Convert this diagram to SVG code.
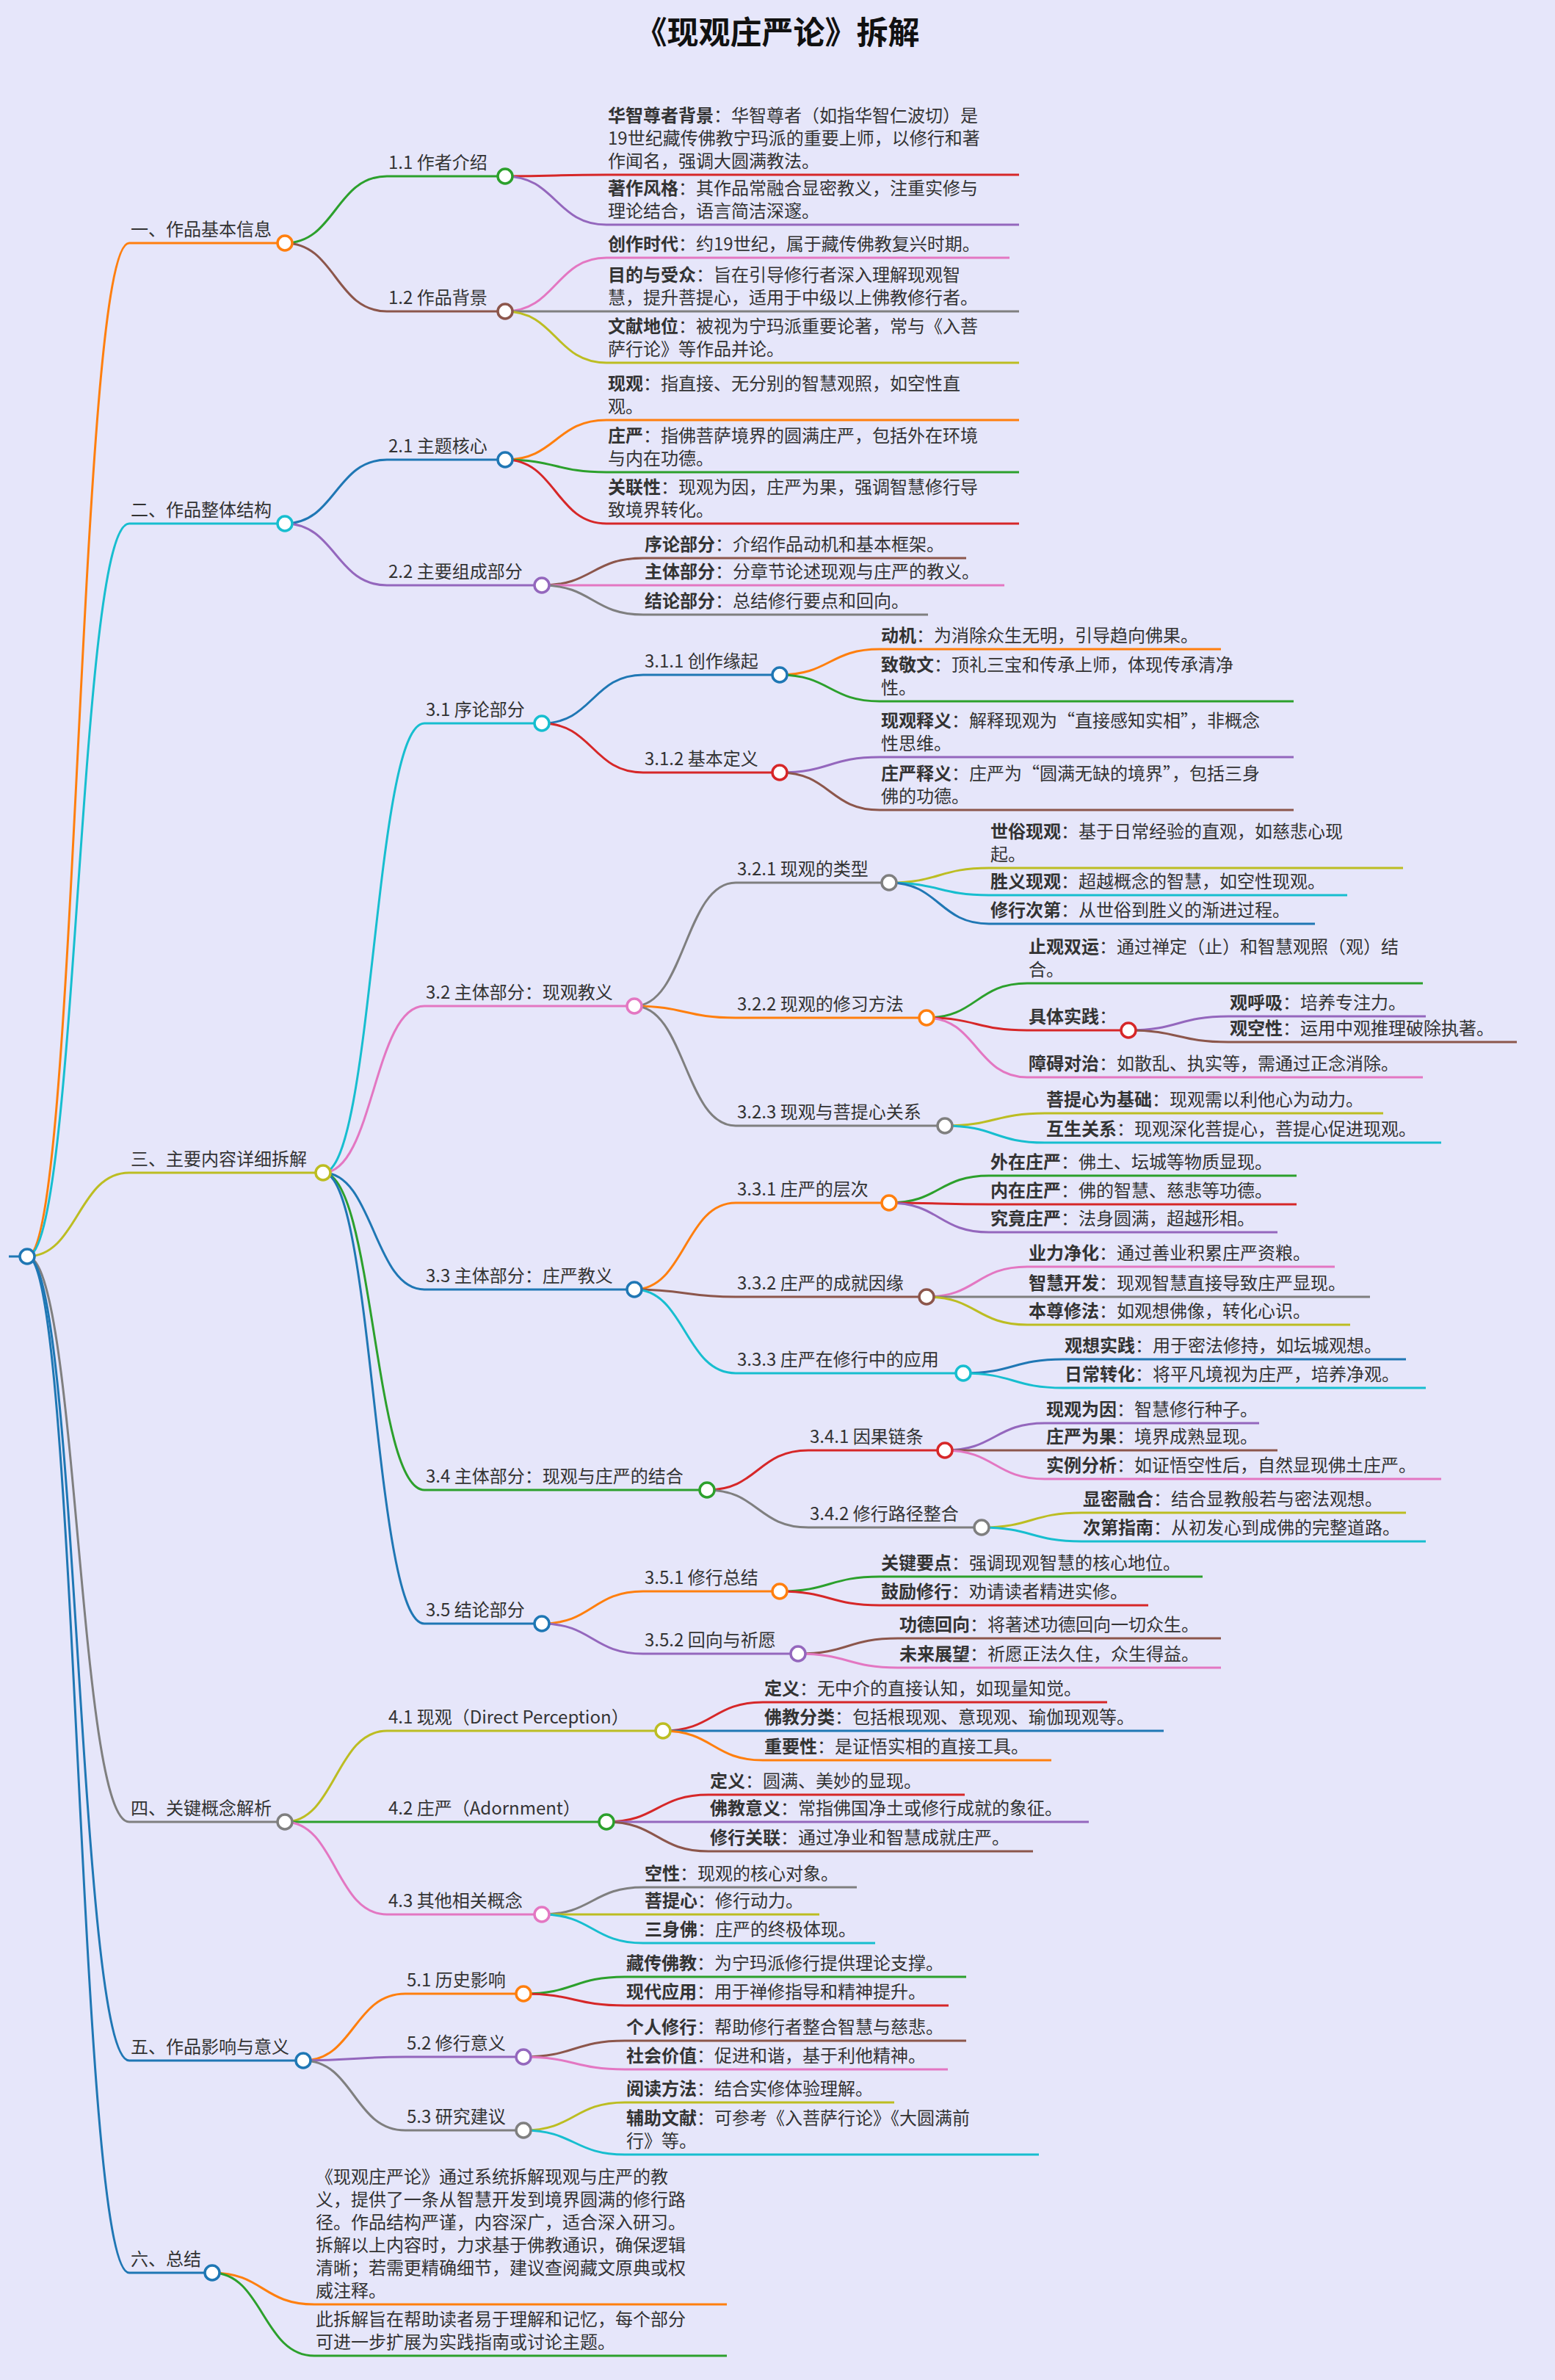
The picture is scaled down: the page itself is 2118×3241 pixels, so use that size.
<svg xmlns="http://www.w3.org/2000/svg" width="2118" height="3241" viewBox="0 0 2118 3241">
<style>
.e{fill:none;stroke-width:3}
.u{fill:none;stroke-width:3}
.n{fill:#fff;stroke-width:3.5}
text{font-family:"Noto Sans CJK SC","Noto Sans",sans-serif;font-size:24px;fill:#333}
.b{font-weight:bold}
.title{font-size:43px;font-weight:bold;fill:#111;text-anchor:middle}
.B{stroke:#1f77b4}.O{stroke:#ff7f0e}.G{stroke:#2ca02c}.R{stroke:#d62728}.P{stroke:#9467bd}.N{stroke:#8c564b}.K{stroke:#e377c2}.Y{stroke:#7f7f7f}.L{stroke:#bcbd22}.C{stroke:#17becf}
</style>
<rect width="2118" height="3241" fill="#e6e6fa"/>
<text class="title" x="1059" y="60">《现观庄严论》拆解</text>
<g id="connectors">
<path class="e B" d="M12 1711H37"/>
<path class="e O" d="M37 1711C106 1711 106 331 176 331"/>
<path class="e C" d="M37 1711C106 1711 106 713 176 713"/>
<path class="e L" d="M37 1711C106 1711 106 1597 176 1597"/>
<path class="e Y" d="M37 1711C106 1711 106 2481 176 2481"/>
<path class="e B" d="M37 1711C106 1711 106 2806 176 2806"/>
<path class="e B" d="M37 1711C106 1711 106 3095 176 3095"/>
<path class="e G" d="M388 331C457 331 457 240 527 240"/>
<path class="e N" d="M388 331C457 331 457 424 527 424"/>
<path class="e R" d="M688 240C757 240 757 238 826 238"/>
<path class="e P" d="M688 240C757 240 757 306 826 306"/>
<path class="e K" d="M688 424C757 424 757 351 826 351"/>
<path class="e Y" d="M688 424C757 424 757 424 826 424"/>
<path class="e L" d="M688 424C757 424 757 494 826 494"/>
<path class="e B" d="M388 713C457 713 457 626 527 626"/>
<path class="e P" d="M388 713C457 713 457 797 527 797"/>
<path class="e O" d="M688 626C757 626 757 572 826 572"/>
<path class="e G" d="M688 626C757 626 757 643 826 643"/>
<path class="e R" d="M688 626C757 626 757 713 826 713"/>
<path class="e N" d="M738 797C807 797 807 760 876 760"/>
<path class="e K" d="M738 797C807 797 807 797 876 797"/>
<path class="e Y" d="M738 797C807 797 807 837 876 837"/>
<path class="e C" d="M440 1597C509 1597 509 985 578 985"/>
<path class="e K" d="M440 1597C509 1597 509 1370 578 1370"/>
<path class="e B" d="M440 1597C509 1597 509 1756 578 1756"/>
<path class="e G" d="M440 1597C509 1597 509 2029 578 2029"/>
<path class="e B" d="M440 1597C509 1597 509 2211 578 2211"/>
<path class="e B" d="M738 985C807 985 807 919 876 919"/>
<path class="e R" d="M738 985C807 985 807 1052 876 1052"/>
<path class="e O" d="M1062 919C1130 919 1130 884 1198 884"/>
<path class="e G" d="M1062 919C1130 919 1130 955 1198 955"/>
<path class="e P" d="M1062 1052C1130 1052 1130 1031 1198 1031"/>
<path class="e N" d="M1062 1052C1130 1052 1130 1103 1198 1103"/>
<path class="e Y" d="M864 1370C933 1370 933 1202 1002 1202"/>
<path class="e O" d="M864 1370C933 1370 933 1386 1002 1386"/>
<path class="e Y" d="M864 1370C933 1370 933 1533 1002 1533"/>
<path class="e L" d="M1211 1202C1279 1202 1279 1182 1347 1182"/>
<path class="e C" d="M1211 1202C1279 1202 1279 1219 1347 1219"/>
<path class="e B" d="M1211 1202C1279 1202 1279 1258 1347 1258"/>
<path class="e G" d="M1262 1386C1330 1386 1330 1339 1399 1339"/>
<path class="e R" d="M1262 1386C1330 1386 1330 1403 1399 1403"/>
<path class="e K" d="M1262 1386C1330 1386 1330 1467 1399 1467"/>
<path class="e P" d="M1537 1403C1605 1403 1605 1384 1673 1384"/>
<path class="e N" d="M1537 1403C1605 1403 1605 1419 1673 1419"/>
<path class="e L" d="M1287 1533C1355 1533 1355 1516 1423 1516"/>
<path class="e C" d="M1287 1533C1355 1533 1355 1556 1423 1556"/>
<path class="e O" d="M864 1756C933 1756 933 1638 1002 1638"/>
<path class="e N" d="M864 1756C933 1756 933 1766 1002 1766"/>
<path class="e C" d="M864 1756C933 1756 933 1870 1002 1870"/>
<path class="e G" d="M1211 1638C1279 1638 1279 1601 1347 1601"/>
<path class="e R" d="M1211 1638C1279 1638 1279 1640 1347 1640"/>
<path class="e P" d="M1211 1638C1279 1638 1279 1678 1347 1678"/>
<path class="e K" d="M1262 1766C1330 1766 1330 1725 1399 1725"/>
<path class="e Y" d="M1262 1766C1330 1766 1330 1766 1399 1766"/>
<path class="e L" d="M1262 1766C1330 1766 1330 1804 1399 1804"/>
<path class="e B" d="M1312 1870C1380 1870 1380 1851 1448 1851"/>
<path class="e C" d="M1312 1870C1380 1870 1380 1890 1448 1890"/>
<path class="e R" d="M963 2029C1032 2029 1032 1975 1101 1975"/>
<path class="e Y" d="M963 2029C1032 2029 1032 2080 1101 2080"/>
<path class="e P" d="M1287 1975C1355 1975 1355 1938 1423 1938"/>
<path class="e N" d="M1287 1975C1355 1975 1355 1975 1423 1975"/>
<path class="e K" d="M1287 1975C1355 1975 1355 2014 1423 2014"/>
<path class="e L" d="M1337 2080C1405 2080 1405 2060 1473 2060"/>
<path class="e C" d="M1337 2080C1405 2080 1405 2099 1473 2099"/>
<path class="e O" d="M738 2211C807 2211 807 2167 876 2167"/>
<path class="e P" d="M738 2211C807 2211 807 2252 876 2252"/>
<path class="e G" d="M1062 2167C1130 2167 1130 2147 1198 2147"/>
<path class="e R" d="M1062 2167C1130 2167 1130 2186 1198 2186"/>
<path class="e N" d="M1087 2252C1155 2252 1155 2231 1223 2231"/>
<path class="e K" d="M1087 2252C1155 2252 1155 2271 1223 2271"/>
<path class="e L" d="M388 2481C457 2481 457 2357 527 2357"/>
<path class="e G" d="M388 2481C457 2481 457 2481 527 2481"/>
<path class="e K" d="M388 2481C457 2481 457 2607 527 2607"/>
<path class="e R" d="M903 2357C971 2357 971 2318 1039 2318"/>
<path class="e B" d="M903 2357C971 2357 971 2357 1039 2357"/>
<path class="e O" d="M903 2357C971 2357 971 2397 1039 2397"/>
<path class="e R" d="M826 2481C895 2481 895 2444 965 2444"/>
<path class="e P" d="M826 2481C895 2481 895 2481 965 2481"/>
<path class="e N" d="M826 2481C895 2481 895 2521 965 2521"/>
<path class="e Y" d="M738 2607C807 2607 807 2570 876 2570"/>
<path class="e L" d="M738 2607C807 2607 807 2607 876 2607"/>
<path class="e C" d="M738 2607C807 2607 807 2646 876 2646"/>
<path class="e O" d="M413 2806C482 2806 482 2715 552 2715"/>
<path class="e P" d="M413 2806C482 2806 482 2801 552 2801"/>
<path class="e Y" d="M413 2806C482 2806 482 2901 552 2901"/>
<path class="e G" d="M713 2715C782 2715 782 2692 851 2692"/>
<path class="e R" d="M713 2715C782 2715 782 2731 851 2731"/>
<path class="e N" d="M713 2801C782 2801 782 2779 851 2779"/>
<path class="e K" d="M713 2801C782 2801 782 2818 851 2818"/>
<path class="e L" d="M713 2901C782 2901 782 2863 851 2863"/>
<path class="e C" d="M713 2901C782 2901 782 2934 851 2934"/>
<path class="e O" d="M289 3095C358 3095 358 3138 428 3138"/>
<path class="e G" d="M289 3095C358 3095 358 3208 428 3208"/>
</g>
<g id="root"><circle class="n B" cx="37" cy="1711" r="10"/></g>
<g id="n1"><path class="u O" d="M176 331H388"/><text x="178" y="321">一、作品基本信息</text><circle class="n O" cx="388" cy="331" r="10"/></g>
<g id="n1-1"><path class="u G" d="M527 240H688"/><text x="529" y="230">1.1 作者介绍</text><circle class="n G" cx="688" cy="240" r="10"/></g>
<g id="n1-1a"><path class="u R" d="M826 238H1388"/><text x="828" y="166"><tspan class="b">华智尊者背景</tspan>：华智尊者（如指华智仁波切）是</text><text x="828" y="197">19世纪藏传佛教宁玛派的重要上师，以修行和著</text><text x="828" y="228">作闻名，强调大圆满教法。</text></g>
<g id="n1-1b"><path class="u P" d="M826 306H1388"/><text x="828" y="265"><tspan class="b">著作风格</tspan>：其作品常融合显密教义，注重实修与</text><text x="828" y="296">理论结合，语言简洁深邃。</text></g>
<g id="n1-2"><path class="u N" d="M527 424H688"/><text x="529" y="414">1.2 作品背景</text><circle class="n N" cx="688" cy="424" r="10"/></g>
<g id="n1-2a"><path class="u K" d="M826 351H1375"/><text x="828" y="341"><tspan class="b">创作时代</tspan>：约19世纪，属于藏传佛教复兴时期。</text></g>
<g id="n1-2b"><path class="u Y" d="M826 424H1388"/><text x="828" y="383"><tspan class="b">目的与受众</tspan>：旨在引导修行者深入理解现观智</text><text x="828" y="414">慧，提升菩提心，适用于中级以上佛教修行者。</text></g>
<g id="n1-2c"><path class="u L" d="M826 494H1388"/><text x="828" y="453"><tspan class="b">文献地位</tspan>：被视为宁玛派重要论著，常与《入菩</text><text x="828" y="484">萨行论》等作品并论。</text></g>
<g id="n2"><path class="u C" d="M176 713H388"/><text x="178" y="703">二、作品整体结构</text><circle class="n C" cx="388" cy="713" r="10"/></g>
<g id="n2-1"><path class="u B" d="M527 626H688"/><text x="529" y="616">2.1 主题核心</text><circle class="n B" cx="688" cy="626" r="10"/></g>
<g id="n2-1a"><path class="u O" d="M826 572H1388"/><text x="828" y="531"><tspan class="b">现观</tspan>：指直接、无分别的智慧观照，如空性直</text><text x="828" y="562">观。</text></g>
<g id="n2-1b"><path class="u G" d="M826 643H1388"/><text x="828" y="602"><tspan class="b">庄严</tspan>：指佛菩萨境界的圆满庄严，包括外在环境</text><text x="828" y="633">与内在功德。</text></g>
<g id="n2-1c"><path class="u R" d="M826 713H1388"/><text x="828" y="672"><tspan class="b">关联性</tspan>：现观为因，庄严为果，强调智慧修行导</text><text x="828" y="703">致境界转化。</text></g>
<g id="n2-2"><path class="u P" d="M527 797H738"/><text x="529" y="787">2.2 主要组成部分</text><circle class="n P" cx="738" cy="797" r="10"/></g>
<g id="n2-2a"><path class="u N" d="M876 760H1316"/><text x="878" y="750"><tspan class="b">序论部分</tspan>：介绍作品动机和基本框架。</text></g>
<g id="n2-2b"><path class="u K" d="M876 797H1368"/><text x="878" y="787"><tspan class="b">主体部分</tspan>：分章节论述现观与庄严的教义。</text></g>
<g id="n2-2c"><path class="u Y" d="M876 837H1264"/><text x="878" y="827"><tspan class="b">结论部分</tspan>：总结修行要点和回向。</text></g>
<g id="n3"><path class="u L" d="M176 1597H440"/><text x="178" y="1587">三、主要内容详细拆解</text><circle class="n L" cx="440" cy="1597" r="10"/></g>
<g id="n3-1"><path class="u C" d="M578 985H738"/><text x="580" y="975">3.1 序论部分</text><circle class="n C" cx="738" cy="985" r="10"/></g>
<g id="n3-1-1"><path class="u B" d="M876 919H1062"/><text x="878" y="909">3.1.1 创作缘起</text><circle class="n B" cx="1062" cy="919" r="10"/></g>
<g id="n3-1-1a"><path class="u O" d="M1198 884H1663"/><text x="1200" y="874"><tspan class="b">动机</tspan>：为消除众生无明，引导趋向佛果。</text></g>
<g id="n3-1-1b"><path class="u G" d="M1198 955H1762"/><text x="1200" y="914"><tspan class="b">致敬文</tspan>：顶礼三宝和传承上师，体现传承清净</text><text x="1200" y="945">性。</text></g>
<g id="n3-1-2"><path class="u R" d="M876 1052H1062"/><text x="878" y="1042">3.1.2 基本定义</text><circle class="n R" cx="1062" cy="1052" r="10"/></g>
<g id="n3-1-2a"><path class="u P" d="M1198 1031H1762"/><text x="1200" y="990"><tspan class="b">现观释义</tspan>：解释现观为“直接感知实相”，非概念</text><text x="1200" y="1021">性思维。</text></g>
<g id="n3-1-2b"><path class="u N" d="M1198 1103H1762"/><text x="1200" y="1062"><tspan class="b">庄严释义</tspan>：庄严为“圆满无缺的境界”，包括三身</text><text x="1200" y="1093">佛的功德。</text></g>
<g id="n3-2"><path class="u K" d="M578 1370H864"/><text x="580" y="1360">3.2 主体部分：现观教义</text><circle class="n K" cx="864" cy="1370" r="10"/></g>
<g id="n3-2-1"><path class="u Y" d="M1002 1202H1211"/><text x="1004" y="1192">3.2.1 现观的类型</text><circle class="n Y" cx="1211" cy="1202" r="10"/></g>
<g id="n3-2-1a"><path class="u L" d="M1347 1182H1911"/><text x="1349" y="1141"><tspan class="b">世俗现观</tspan>：基于日常经验的直观，如慈悲心现</text><text x="1349" y="1172">起。</text></g>
<g id="n3-2-1b"><path class="u C" d="M1347 1219H1835"/><text x="1349" y="1209"><tspan class="b">胜义现观</tspan>：超越概念的智慧，如空性现观。</text></g>
<g id="n3-2-1c"><path class="u B" d="M1347 1258H1791"/><text x="1349" y="1248"><tspan class="b">修行次第</tspan>：从世俗到胜义的渐进过程。</text></g>
<g id="n3-2-2"><path class="u O" d="M1002 1386H1262"/><text x="1004" y="1376">3.2.2 现观的修习方法</text><circle class="n O" cx="1262" cy="1386" r="10"/></g>
<g id="n3-2-2a"><path class="u G" d="M1399 1339H1938"/><text x="1401" y="1298"><tspan class="b">止观双运</tspan>：通过禅定（止）和智慧观照（观）结</text><text x="1401" y="1329">合。</text></g>
<g id="n3-2-2b"><path class="u R" d="M1399 1403H1537"/><text x="1401" y="1393"><tspan class="b">具体实践</tspan>：</text><circle class="n R" cx="1537" cy="1403" r="10"/></g>
<g id="n3-2-2b1"><path class="u P" d="M1673 1384H1942"/><text x="1675" y="1374"><tspan class="b">观呼吸</tspan>：培养专注力。</text></g>
<g id="n3-2-2b2"><path class="u N" d="M1673 1419H2066"/><text x="1675" y="1409"><tspan class="b">观空性</tspan>：运用中观推理破除执著。</text></g>
<g id="n3-2-2c"><path class="u K" d="M1399 1467H1938"/><text x="1401" y="1457"><tspan class="b">障碍对治</tspan>：如散乱、执实等，需通过正念消除。</text></g>
<g id="n3-2-3"><path class="u Y" d="M1002 1533H1287"/><text x="1004" y="1523">3.2.3 现观与菩提心关系</text><circle class="n Y" cx="1287" cy="1533" r="10"/></g>
<g id="n3-2-3a"><path class="u L" d="M1423 1516H1884"/><text x="1425" y="1506"><tspan class="b">菩提心为基础</tspan>：现观需以利他心为动力。</text></g>
<g id="n3-2-3b"><path class="u C" d="M1423 1556H1963"/><text x="1425" y="1546"><tspan class="b">互生关系</tspan>：现观深化菩提心，菩提心促进现观。</text></g>
<g id="n3-3"><path class="u B" d="M578 1756H864"/><text x="580" y="1746">3.3 主体部分：庄严教义</text><circle class="n B" cx="864" cy="1756" r="10"/></g>
<g id="n3-3-1"><path class="u O" d="M1002 1638H1211"/><text x="1004" y="1628">3.3.1 庄严的层次</text><circle class="n O" cx="1211" cy="1638" r="10"/></g>
<g id="n3-3-1a"><path class="u G" d="M1347 1601H1766"/><text x="1349" y="1591"><tspan class="b">外在庄严</tspan>：佛土、坛城等物质显现。</text></g>
<g id="n3-3-1b"><path class="u R" d="M1347 1640H1766"/><text x="1349" y="1630"><tspan class="b">内在庄严</tspan>：佛的智慧、慈悲等功德。</text></g>
<g id="n3-3-1c"><path class="u P" d="M1347 1678H1740"/><text x="1349" y="1668"><tspan class="b">究竟庄严</tspan>：法身圆满，超越形相。</text></g>
<g id="n3-3-2"><path class="u N" d="M1002 1766H1262"/><text x="1004" y="1756">3.3.2 庄严的成就因缘</text><circle class="n N" cx="1262" cy="1766" r="10"/></g>
<g id="n3-3-2a"><path class="u K" d="M1399 1725H1818"/><text x="1401" y="1715"><tspan class="b">业力净化</tspan>：通过善业积累庄严资粮。</text></g>
<g id="n3-3-2b"><path class="u Y" d="M1399 1766H1866"/><text x="1401" y="1756"><tspan class="b">智慧开发</tspan>：现观智慧直接导致庄严显现。</text></g>
<g id="n3-3-2c"><path class="u L" d="M1399 1804H1839"/><text x="1401" y="1794"><tspan class="b">本尊修法</tspan>：如观想佛像，转化心识。</text></g>
<g id="n3-3-3"><path class="u C" d="M1002 1870H1312"/><text x="1004" y="1860">3.3.3 庄严在修行中的应用</text><circle class="n C" cx="1312" cy="1870" r="10"/></g>
<g id="n3-3-3a"><path class="u B" d="M1448 1851H1915"/><text x="1450" y="1841"><tspan class="b">观想实践</tspan>：用于密法修持，如坛城观想。</text></g>
<g id="n3-3-3b"><path class="u C" d="M1448 1890H1942"/><text x="1450" y="1880"><tspan class="b">日常转化</tspan>：将平凡境视为庄严，培养净观。</text></g>
<g id="n3-4"><path class="u G" d="M578 2029H963"/><text x="580" y="2019">3.4 主体部分：现观与庄严的结合</text><circle class="n G" cx="963" cy="2029" r="10"/></g>
<g id="n3-4-1"><path class="u R" d="M1101 1975H1287"/><text x="1103" y="1965">3.4.1 因果链条</text><circle class="n R" cx="1287" cy="1975" r="10"/></g>
<g id="n3-4-1a"><path class="u P" d="M1423 1938H1715"/><text x="1425" y="1928"><tspan class="b">现观为因</tspan>：智慧修行种子。</text></g>
<g id="n3-4-1b"><path class="u N" d="M1423 1975H1740"/><text x="1425" y="1965"><tspan class="b">庄严为果</tspan>：境界成熟显现。</text></g>
<g id="n3-4-1c"><path class="u K" d="M1423 2014H1963"/><text x="1425" y="2004"><tspan class="b">实例分析</tspan>：如证悟空性后，自然显现佛土庄严。</text></g>
<g id="n3-4-2"><path class="u Y" d="M1101 2080H1337"/><text x="1103" y="2070">3.4.2 修行路径整合</text><circle class="n Y" cx="1337" cy="2080" r="10"/></g>
<g id="n3-4-2a"><path class="u L" d="M1473 2060H1915"/><text x="1475" y="2050"><tspan class="b">显密融合</tspan>：结合显教般若与密法观想。</text></g>
<g id="n3-4-2b"><path class="u C" d="M1473 2099H1942"/><text x="1475" y="2089"><tspan class="b">次第指南</tspan>：从初发心到成佛的完整道路。</text></g>
<g id="n3-5"><path class="u B" d="M578 2211H738"/><text x="580" y="2201">3.5 结论部分</text><circle class="n B" cx="738" cy="2211" r="10"/></g>
<g id="n3-5-1"><path class="u O" d="M876 2167H1062"/><text x="878" y="2157">3.5.1 修行总结</text><circle class="n O" cx="1062" cy="2167" r="10"/></g>
<g id="n3-5-1a"><path class="u G" d="M1198 2147H1638"/><text x="1200" y="2137"><tspan class="b">关键要点</tspan>：强调现观智慧的核心地位。</text></g>
<g id="n3-5-1b"><path class="u R" d="M1198 2186H1564"/><text x="1200" y="2176"><tspan class="b">鼓励修行</tspan>：劝请读者精进实修。</text></g>
<g id="n3-5-2"><path class="u P" d="M876 2252H1087"/><text x="878" y="2242">3.5.2 回向与祈愿</text><circle class="n P" cx="1087" cy="2252" r="10"/></g>
<g id="n3-5-2a"><path class="u N" d="M1223 2231H1663"/><text x="1225" y="2221"><tspan class="b">功德回向</tspan>：将著述功德回向一切众生。</text></g>
<g id="n3-5-2b"><path class="u K" d="M1223 2271H1663"/><text x="1225" y="2261"><tspan class="b">未来展望</tspan>：祈愿正法久住，众生得益。</text></g>
<g id="n4"><path class="u Y" d="M176 2481H388"/><text x="178" y="2471">四、关键概念解析</text><circle class="n Y" cx="388" cy="2481" r="10"/></g>
<g id="n4-1"><path class="u L" d="M527 2357H903"/><text x="529" y="2347">4.1 现观（Direct Perception）</text><circle class="n L" cx="903" cy="2357" r="10"/></g>
<g id="n4-1a"><path class="u R" d="M1039 2318H1508"/><text x="1041" y="2308"><tspan class="b">定义</tspan>：无中介的直接认知，如现量知觉。</text></g>
<g id="n4-1b"><path class="u B" d="M1039 2357H1585"/><text x="1041" y="2347"><tspan class="b">佛教分类</tspan>：包括根现观、意现观、瑜伽现观等。</text></g>
<g id="n4-1c"><path class="u O" d="M1039 2397H1432"/><text x="1041" y="2387"><tspan class="b">重要性</tspan>：是证悟实相的直接工具。</text></g>
<g id="n4-2"><path class="u G" d="M527 2481H826"/><text x="529" y="2471">4.2 庄严（Adornment）</text><circle class="n G" cx="826" cy="2481" r="10"/></g>
<g id="n4-2a"><path class="u R" d="M965 2444H1314"/><text x="967" y="2434"><tspan class="b">定义</tspan>：圆满、美妙的显现。</text></g>
<g id="n4-2b"><path class="u P" d="M965 2481H1483"/><text x="967" y="2471"><tspan class="b">佛教意义</tspan>：常指佛国净土或修行成就的象征。</text></g>
<g id="n4-2c"><path class="u N" d="M965 2521H1407"/><text x="967" y="2511"><tspan class="b">修行关联</tspan>：通过净业和智慧成就庄严。</text></g>
<g id="n4-3"><path class="u K" d="M527 2607H738"/><text x="529" y="2597">4.3 其他相关概念</text><circle class="n K" cx="738" cy="2607" r="10"/></g>
<g id="n4-3a"><path class="u Y" d="M876 2570H1167"/><text x="878" y="2560"><tspan class="b">空性</tspan>：现观的核心对象。</text></g>
<g id="n4-3b"><path class="u L" d="M876 2607H1116"/><text x="878" y="2597"><tspan class="b">菩提心</tspan>：修行动力。</text></g>
<g id="n4-3c"><path class="u C" d="M876 2646H1192"/><text x="878" y="2636"><tspan class="b">三身佛</tspan>：庄严的终极体现。</text></g>
<g id="n5"><path class="u B" d="M176 2806H413"/><text x="178" y="2796">五、作品影响与意义</text><circle class="n B" cx="413" cy="2806" r="10"/></g>
<g id="n5-1"><path class="u O" d="M552 2715H713"/><text x="554" y="2705">5.1 历史影响</text><circle class="n O" cx="713" cy="2715" r="10"/></g>
<g id="n5-1a"><path class="u G" d="M851 2692H1316"/><text x="853" y="2682"><tspan class="b">藏传佛教</tspan>：为宁玛派修行提供理论支撑。</text></g>
<g id="n5-1b"><path class="u R" d="M851 2731H1292"/><text x="853" y="2721"><tspan class="b">现代应用</tspan>：用于禅修指导和精神提升。</text></g>
<g id="n5-2"><path class="u P" d="M552 2801H713"/><text x="554" y="2791">5.2 修行意义</text><circle class="n P" cx="713" cy="2801" r="10"/></g>
<g id="n5-2a"><path class="u N" d="M851 2779H1316"/><text x="853" y="2769"><tspan class="b">个人修行</tspan>：帮助修行者整合智慧与慈悲。</text></g>
<g id="n5-2b"><path class="u K" d="M851 2818H1291"/><text x="853" y="2808"><tspan class="b">社会价值</tspan>：促进和谐，基于利他精神。</text></g>
<g id="n5-3"><path class="u Y" d="M552 2901H713"/><text x="554" y="2891">5.3 研究建议</text><circle class="n Y" cx="713" cy="2901" r="10"/></g>
<g id="n5-3a"><path class="u L" d="M851 2863H1218"/><text x="853" y="2853"><tspan class="b">阅读方法</tspan>：结合实修体验理解。</text></g>
<g id="n5-3b"><path class="u C" d="M851 2934H1415"/><text x="853" y="2893"><tspan class="b">辅助文献</tspan>：可参考《入菩萨行论》《大圆满前</text><text x="853" y="2924">行》等。</text></g>
<g id="n6"><path class="u B" d="M176 3095H289"/><text x="178" y="3085">六、总结</text><circle class="n B" cx="289" cy="3095" r="10"/></g>
<g id="n6a"><path class="u O" d="M428 3138H990"/><text x="430" y="2973">《现观庄严论》通过系统拆解现观与庄严的教</text><text x="430" y="3004">义，提供了一条从智慧开发到境界圆满的修行路</text><text x="430" y="3035">径。作品结构严谨，内容深广，适合深入研习。</text><text x="430" y="3066">拆解以上内容时，力求基于佛教通识，确保逻辑</text><text x="430" y="3097">清晰；若需更精确细节，建议查阅藏文原典或权</text><text x="430" y="3128">威注释。</text></g>
<g id="n6b"><path class="u G" d="M428 3208H990"/><text x="430" y="3167">此拆解旨在帮助读者易于理解和记忆，每个部分</text><text x="430" y="3198">可进一步扩展为实践指南或讨论主题。</text></g>
</svg>
